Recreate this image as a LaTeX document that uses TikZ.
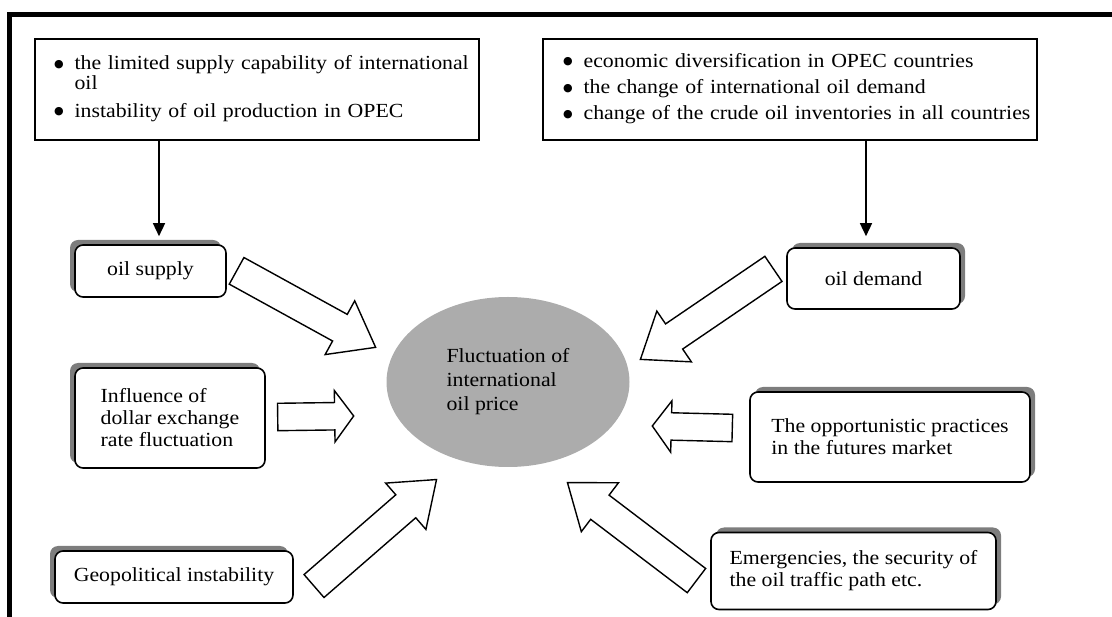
\documentclass[tikz,border=0pt]{standalone}
\usepackage{fontspec}
\setmainfont{Liberation Serif}[FakeStretch=1.09]
\newfontfamily\dotfont{DejaVu Sans}
\usetikzlibrary{arrows.meta}
\usetikzlibrary{calc}
\usetikzlibrary{shapes,shadows}

\definecolor{ovalgray}{RGB}{172,172,172}
\definecolor{shadowgray}{RGB}{125,125,125}

\newcommand{\listdot}{\raisebox{2.5pt}{\dotfont\fontsize{11}{11}\selectfont ●}}

\tikzset{
  listbox/.style={draw=black, line width=1.3pt, shape=rectangle, align=left, inner ysep=0pt, font=\fontsize{20}{20}\selectfont},
  causebox/.style={draw=black, line width=1.6pt, rounded corners=8pt, fill=white, align=left, inner sep=0pt, font=\fontsize{20}{22}\selectfont},
  shadowleft/.style={drop shadow={shadow xshift=-5pt, shadow yshift=5pt, fill=shadowgray, opacity=1}},
  shadowright/.style={drop shadow={shadow xshift=5pt, shadow yshift=5pt, fill=shadowgray, opacity=1}},
  flowline/.style={line width=1.5pt, -{Triangle[length=13pt, width=12pt]}},
  blockarrow/.style={single arrow, draw=black, line width=1.4pt, fill=white, inner xsep=0pt, single arrow head indent=0pt},
  slantarrow/.style={inner ysep=14.5pt, single arrow head extend=15.5pt, single arrow tip angle=74},
  flatarrow/.style={inner ysep=13pt, single arrow head extend=12pt, single arrow tip angle=107},
}

\newcommand{\blockpointer}[3][]{%
  \path let \p1=(#2), \p2=(#3),
    \n1={atan2(\y2-\y1,\x2-\x1)}, \n2={veclen(\x2-\x1,\y2-\y1)} in
    node[blockarrow, #1, minimum height=\n2, rotate=\n1, anchor=tail] at (#2) {};
}

\begin{document}
\begin{tikzpicture}[x=1pt, y=-1pt]

\useasboundingbox (0, 0) rectangle (1112, 617);

\draw[line width=5pt] (9.5, 617) -- (9.5, 14.5) -- (1112, 14.5);

\node (supplyfactors) [listbox, text width=406pt, inner xsep=19pt, minimum height=101pt] at (257, 89.5) {%
\begin{tabular}{@{}l@{\hspace{11pt}}l@{}}
\listdot & the limited supply capability of international\\
 & oil\\[7pt]
\listdot & instability of oil production in OPEC
\end{tabular}};

\node (demandfactors) [listbox, text width=454pt, inner xsep=20pt, minimum height=101pt] at (790, 89.5) {%
\begin{tabular}{@{}l@{\hspace{11pt}}l@{}}
\listdot & economic diversification in OPEC countries\\[6pt]
\listdot & the change of international oil demand\\[6pt]
\listdot & change of the crude oil inventories in all countries
\end{tabular}};

\node (oilsupply) [causebox, shadowleft, minimum width=151pt, minimum height=52pt] at (150.5, 271) {oil supply};

\node (oildemand) [causebox, shadowright, minimum width=173pt, minimum height=61pt] at (873.5, 278.5) {oil demand};

\node (dollar) [causebox, shadowleft, minimum width=190pt, minimum height=100pt] at (170, 418) {Influence of\\dollar exchange\\rate fluctuation};

\node (futures) [causebox, shadowright, minimum width=280pt, minimum height=90pt] at (890, 437) {The opportunistic practices\\in the futures market};

\node (geopolitics) [causebox, shadowleft, minimum width=238pt, minimum height=52pt] at (174, 577) {Geopolitical instability};

\node (emergencies) [causebox, shadowright, minimum width=285pt, minimum height=77pt] at (853.5, 571) {Emergencies, the security of\\the oil traffic path etc.};

\node (price) [ellipse, fill=ovalgray, inner sep=0pt, minimum width=243pt, minimum height=170pt, align=left, font=\fontsize{20}{24}\selectfont] at (508, 382) {Fluctuation of\\international\\oil price};

\draw[flowline] ([xshift=8.5pt]oilsupply.north |- supplyfactors.south) -- ([xshift=8.5pt, yshift=8pt]oilsupply.north);
\draw[flowline] ([xshift=-7.5pt]oildemand.north |- demandfactors.south) -- ([xshift=-7.5pt, yshift=11pt]oildemand.north);

\coordinate (supplytail) at (236, 270.5);
\coordinate (supplytip) at (375, 347);
\coordinate (dollartail) at (277, 417);
\coordinate (dollartip) at (353, 416);
\coordinate (demandtail) at (774, 268.5);
\coordinate (demandtip) at (641, 359);
\coordinate (futurestail) at (733, 428);
\coordinate (futurestip) at (653, 426);
\coordinate (geotail) at (313.5, 586.5);
\coordinate (geotip) at (436, 480);
\coordinate (emergtail) at (697, 581);
\coordinate (emergtip) at (568, 483);

\blockpointer[slantarrow]{supplytail}{supplytip}
\blockpointer[flatarrow]{dollartail}{dollartip}
\blockpointer[slantarrow]{demandtail}{demandtip}
\blockpointer[flatarrow]{futurestail}{futurestip}
\blockpointer[slantarrow]{geotail}{geotip}
\blockpointer[slantarrow]{emergtail}{emergtip}

\end{tikzpicture}
\end{document}
